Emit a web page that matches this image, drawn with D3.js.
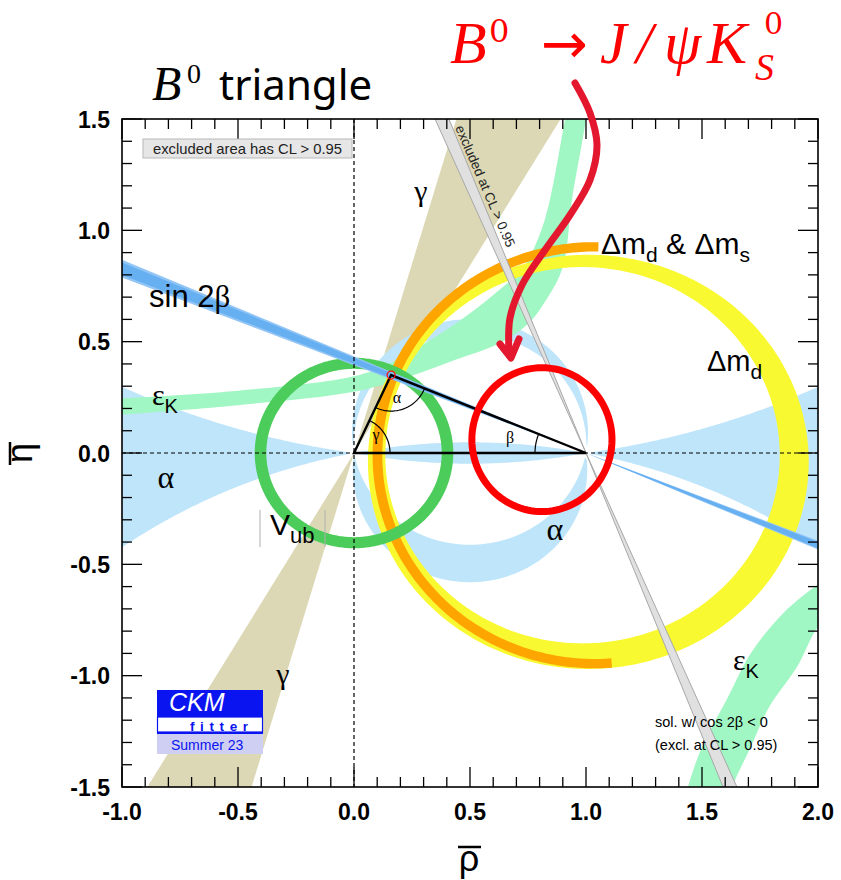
<!DOCTYPE html>
<html>
<head>
<meta charset="utf-8">
<script src="https://cdn.jsdelivr.net/npm/d3@7"></script>
<style>
  body { margin: 0; background: #fff; }
  svg { display: block; }
</style>
</head>
<body>
<svg id="chart" width="841" height="880"></svg>
<script>
// ---- axis ticks ----
const xTicks = [-1.0, -0.5, 0.0, 0.5, 1.0, 1.5, 2.0];
const yTicks = [-1.5, -1.0, -0.5, 0.0, 0.5, 1.0, 1.5];
const xMinor = d3.range(-10, 21).map(d => d / 10);
const yMinor = d3.range(-15, 16).map(d => d / 10);

// ---- constraint values (rho-bar, eta-bar plane) ----
const apex = [0.16, 0.35];                       // fitted apex
const gammaRange = [59.3, 73.6];                 // gamma, deg (95% CL)
const betaOuter = [21.5, 23.45];                 // sin 2beta, deg
const betaInner = [21.8, 23.15];
const betaMirror = [66.55, 68.5];                // cos 2beta < 0 solution, deg
const vubRadius = [0.378, 0.428];                // |Vub| ring radius
const dmdInner = [0.985, -0.01, 0.85, 0.845];    // cx, cy, rx, ry
const dmdOuter = [1.01, -0.04, 0.95, 0.93];
const dmsRing = [1.037, -0.01, 0.915, 0.957];    // cx, cy, rInner, rOuter
const dmsAngles = [89, 274.5];                   // arc extent, deg
const alphaUpper = [[-1, 8.1], [79.5, 86], [169, 181]];   // alpha, deg (eta > 0)
const alphaLower = [[-1, 11], [81.5, 101], [169, 181]];   // alpha, deg (eta < 0)
const epsKOuter = [[-1.1, 0.24], [-0.5, 0.28], [0.0, 0.345], [0.15, 0.40], [0.30, 0.49],
                   [0.45, 0.59], [0.60, 0.71], [0.73, 0.835], [0.80, 0.98], [0.845, 1.14],
                   [0.91, 1.5], [0.93, 1.6]];
const epsKInner = [[-1.1, 0.165], [-0.5, 0.215], [0.0, 0.275], [0.23, 0.34], [0.44, 0.42],
                   [0.62, 0.49], [0.75, 0.58], [0.83, 0.69], [0.90, 0.835], [0.94, 1.14],
                   [1.0, 1.5], [1.01, 1.6]];
const epsKLowerA = [[1.42, -1.6], [1.44, -1.5], [1.50, -1.32], [1.61, -1.10], [1.71, -0.90],
                    [1.85, -0.72], [2.0, -0.59], [2.1, -0.52]];
const epsKLowerB = [[1.60, -1.6], [1.63, -1.5], [1.71, -1.32], [1.79, -1.14], [1.91, -0.96],
                    [2.0, -0.78], [2.1, -0.68]];
const markCircle = [0.81, 0.06, 0.302, 0.323];   // highlighted region: cx, cy, rx, ry

// ---- layout ----
const x = d3.scaleLinear().domain([-1, 2]).range([122, 818]);
const y = d3.scaleLinear().domain([-1.5, 1.5]).range([787, 119]);
const svg = d3.select('#chart');
const rad = Math.PI / 180;
const SANS = 'Liberation Sans, Arial, Helvetica, sans-serif';
const SERIF = 'Liberation Serif, Times New Roman, serif';

svg.append('defs').append('clipPath').attr('id', 'plotClip')
  .append('rect').attr('x', 122).attr('y', 119).attr('width', 696).attr('height', 668);
const plot = svg.append('g').attr('clip-path', 'url(#plotClip)');

const P = d => [x(d[0]), y(d[1])];
const poly = pts => 'M' + pts.map(p => P(p).join(',')).join('L') + 'Z';

function wedge(v, a1, a2, R = 8) {
  return poly([v,
    [v[0] + R * Math.cos(a1 * rad), v[1] + R * Math.sin(a1 * rad)],
    [v[0] + R * Math.cos(a2 * rad), v[1] + R * Math.sin(a2 * rad)]]);
}
function ellipsePts(cx, cy, rx, ry, a0 = 0, a1 = 360, n = 360) {
  return d3.range(n + 1).map(i => {
    const a = (a0 + (a1 - a0) * i / n) * rad;
    return [cx + rx * Math.cos(a), cy + ry * Math.sin(a)];
  });
}
function ringPath(outer, inner) {
  return poly(ellipsePts(...outer)) + poly(ellipsePts(...inner));
}

// ---- gamma (beige wedges through origin) ----
plot.append('path').attr('d', wedge([0, 0], gammaRange[0], gammaRange[1]))
  .attr('fill', '#dcd8b5');
plot.append('path').attr('d', wedge([0, 0], gammaRange[0] + 180, gammaRange[1] + 180))
  .attr('fill', '#dcd8b5');

// ---- alpha (contours of the apex angle) ----
{
  const step = 2, nx = 348, ny = 334;
  const vals = new Float64Array(nx * ny);
  for (let j = 0; j < ny; j++) {
    for (let i = 0; i < nx; i++) {
      const r = x.invert(122 + (i + 0.5) * step);
      const e = y.invert(119 + (j + 0.5) * step);
      const ax = -r, ay = -e, bx = 1 - r, by = -e;
      const na = Math.hypot(ax, ay), nb = Math.hypot(bx, by);
      let c = (ax * bx + ay * by) / (na * nb);
      c = Math.max(-1, Math.min(1, c));
      const ang = isFinite(c) ? Math.acos(c) / rad : 0;
      const ranges = e >= 0 ? alphaUpper : alphaLower;
      let g = -1e9;
      for (const [lo, hi] of ranges) g = Math.max(g, Math.min(ang - lo, hi - ang));
      vals[j * nx + i] = g;
    }
  }
  const cont = d3.contours().size([nx, ny]).thresholds([0])(vals);
  const path = d3.geoPath(d3.geoIdentity().scale(step).translate([122, 119]));
  plot.append('path').attr('d', path(cont[0])).attr('fill', '#bfe5fb');
}

// ---- epsilon_K (light green) ----
const smooth = d3.line().curve(d3.curveCatmullRom.alpha(0.5));
function bandPath(a, b) {
  const pa = a.map(P), pb = b.slice().reverse().map(P);
  return smooth(pa) + 'L' + smooth(pb).slice(1) + 'Z';
}
plot.append('path').attr('d', bandPath(epsKOuter, epsKInner)).attr('fill', '#a0f7c3');
plot.append('path').attr('d', bandPath(epsKLowerA, epsKLowerB)).attr('fill', '#a0f7c3');

// ---- Delta m_d (yellow ring) ----
plot.append('path').attr('d', ringPath(dmdOuter, dmdInner))
  .attr('fill', '#f9f932').attr('fill-rule', 'evenodd');

// ---- Delta m_d & Delta m_s (orange arc band) ----
{
  const [cx, cy, r0, r1] = dmsRing;
  const outer = ellipsePts(cx, cy, r1, r1, dmsAngles[0], dmsAngles[1], 200);
  const inner = ellipsePts(cx, cy, r0, r0, dmsAngles[0], dmsAngles[1], 200).reverse();
  plot.append('path').attr('d', poly(outer.concat(inner))).attr('fill', '#ffa500');
}

// ---- |Vub| (green ring around origin) ----
plot.append('path')
  .attr('d', ringPath([0, 0, vubRadius[1], vubRadius[1]], [0, 0, vubRadius[0], vubRadius[0]]))
  .attr('fill', '#4ccc5a').attr('fill-rule', 'evenodd');

// ---- sin 2beta (blue wedges through (1,0)) ----
for (const [rng, col] of [[betaOuter, '#92c5f5'], [betaInner, '#66b0f2']]) {
  plot.append('path').attr('d', wedge([1, 0], 180 - rng[1], 180 - rng[0])).attr('fill', col);
  plot.append('path').attr('d', wedge([1, 0], -rng[1], -rng[0])).attr('fill', col);
}

// ---- cos 2beta < 0 solution (grey, excluded) ----
plot.append('path').attr('d', wedge([1, 0], 180 - betaMirror[1], 180 - betaMirror[0]))
  .attr('fill', '#e0e0e0').attr('stroke', '#a8a8a8').attr('stroke-width', 1);
plot.append('path').attr('d', wedge([1, 0], -betaMirror[1], -betaMirror[0]))
  .attr('fill', '#e0e0e0').attr('stroke', '#a8a8a8').attr('stroke-width', 1);

// ---- dashed axes through the origin ----
plot.append('line').attr('x1', x(0)).attr('x2', x(0)).attr('y1', y(1.5)).attr('y2', y(-1.5))
  .attr('stroke', '#000').attr('stroke-width', 1.2).attr('stroke-dasharray', '4,3');
plot.append('line').attr('x1', x(-1)).attr('x2', x(2)).attr('y1', y(0)).attr('y2', y(0))
  .attr('stroke', '#000').attr('stroke-width', 1.2).attr('stroke-dasharray', '4,3');

// ---- unitarity triangle ----
const O = P([0, 0]), B1 = P([1, 0]), A = P(apex);
plot.append('path').attr('d', `M${O}L${B1}L${A}Z`)
  .attr('fill', 'none').attr('stroke', '#000').attr('stroke-width', 2.4).attr('stroke-linejoin', 'miter');

function angleArc(c, p1, p2, r) {
  const a1 = Math.atan2(p1[1] - c[1], p1[0] - c[0]);
  let a2 = Math.atan2(p2[1] - c[1], p2[0] - c[0]);
  let d = a2 - a1;
  while (d > Math.PI) d -= 2 * Math.PI;
  while (d < -Math.PI) d += 2 * Math.PI;
  const pts = d3.range(41).map(i => {
    const a = a1 + d * i / 40;
    return [c[0] + r * Math.cos(a), c[1] + r * Math.sin(a)];
  });
  return d3.line()(pts);
}
const arcStyle = s => s.attr('fill', 'none').attr('stroke', '#000').attr('stroke-width', 1.2);
plot.append('path').attr('d', angleArc(O, B1, A, 36)).call(arcStyle);
plot.append('path').attr('d', angleArc(A, O, B1, 36)).call(arcStyle);
plot.append('path').attr('d', angleArc(B1, O, A, 51)).call(arcStyle);
plot.append('circle').attr('cx', A[0]).attr('cy', A[1]).attr('r', 4)
  .attr('fill', 'none').attr('stroke', '#ff1010').attr('stroke-width', 1.3);

const tri = plot.append('g').attr('font-family', SERIF).attr('font-size', 16).attr('fill', '#000');
tri.append('text').attr('x', 397).attr('y', 403).attr('text-anchor', 'middle').text('α');
tri.append('text').attr('x', 376).attr('y', 440).attr('text-anchor', 'middle').text('γ');
tri.append('text').attr('x', 510).attr('y', 443).attr('text-anchor', 'middle').text('β');

// ---- frame and ticks ----
const axisG = svg.append('g').attr('stroke', '#000').attr('stroke-width', 1.3);
axisG.append('rect').attr('x', 122).attr('y', 119).attr('width', 696).attr('height', 668)
  .attr('fill', 'none').attr('stroke-width', 1.6);
const isMajor = v => Math.abs(v * 2 - Math.round(v * 2)) < 1e-6;
for (const v of xMinor) {
  const L = isMajor(v) ? 20 : 10;
  axisG.append('line').attr('x1', x(v)).attr('x2', x(v)).attr('y1', 787).attr('y2', 787 - L);
  axisG.append('line').attr('x1', x(v)).attr('x2', x(v)).attr('y1', 119).attr('y2', 119 + L);
}
for (const v of yMinor) {
  const L = isMajor(v) ? 20 : 10;
  axisG.append('line').attr('x1', 122).attr('x2', 122 + L).attr('y1', y(v)).attr('y2', y(v));
  axisG.append('line').attr('x1', 818).attr('x2', 818 - L).attr('y1', y(v)).attr('y2', y(v));
}
const tickTxt = svg.append('g').attr('font-family', SANS).attr('font-weight', 'bold')
  .attr('font-size', 23).attr('fill', '#000');
for (const v of xTicks) {
  tickTxt.append('text').attr('x', x(v)).attr('y', 820).attr('text-anchor', 'middle').text(v.toFixed(1));
}
for (const v of yTicks) {
  tickTxt.append('text').attr('x', 110).attr('y', y(v) + 8.5).attr('text-anchor', 'end').text(v.toFixed(1));
}

// ---- axis titles ----
svg.append('text').attr('x', 469).attr('y', 871).attr('text-anchor', 'middle')
  .attr('font-family', SANS).attr('font-size', 36).text('ρ');
svg.append('line').attr('x1', 458).attr('x2', 481).attr('y1', 847).attr('y2', 847)
  .attr('stroke', '#000').attr('stroke-width', 2.5);
svg.append('text').attr('transform', 'translate(32,453) rotate(-90)').attr('text-anchor', 'middle')
  .attr('font-family', SANS).attr('font-size', 36).text('η');
svg.append('line').attr('x1', 10).attr('x2', 10).attr('y1', 442).attr('y2', 465)
  .attr('stroke', '#000').attr('stroke-width', 2.5);

// ---- band labels ----
const lab = svg.append('g').attr('font-family', SANS).attr('fill', '#000');
function subLabel(px, py, main, sub, size, subSize, mainFont = SANS) {
  const t = lab.append('text').attr('x', px).attr('y', py).attr('font-size', size);
  t.append('tspan').attr('font-family', mainFont).text(main);
  t.append('tspan').attr('font-size', subSize).attr('dy', size * 0.28).text(sub);
  return t;
}
lab.append('text').attr('x', 421).attr('y', 201).attr('text-anchor', 'middle')
  .attr('font-family', SERIF).attr('font-size', 30).text('γ');
lab.append('text').attr('x', 283).attr('y', 684).attr('text-anchor', 'middle')
  .attr('font-family', SERIF).attr('font-size', 30).text('γ');
lab.append('text').attr('x', 166).attr('y', 488).attr('text-anchor', 'middle')
  .attr('font-family', SERIF).attr('font-size', 32).text('α');
lab.append('text').attr('x', 555).attr('y', 540).attr('text-anchor', 'middle')
  .attr('font-family', SERIF).attr('font-size', 32).text('α');
{
  const t = lab.append('text').attr('x', 149).attr('y', 307).attr('font-size', 31);
  t.append('tspan').text('sin 2');
  t.append('tspan').attr('font-family', SERIF).text('β');
}
{
  const t = lab.append('text').attr('x', 601).attr('y', 254).attr('font-size', 30);
  t.append('tspan').text('Δm');
  t.append('tspan').attr('font-size', 21).attr('dy', 8).text('d');
  t.append('tspan').attr('dy', -8).text(' & Δm');
  t.append('tspan').attr('font-size', 21).attr('dy', 8).text('s');
}
subLabel(707, 371, 'Δm', 'd', 29, 21);
subLabel(152, 405, 'ε', 'K', 30, 20, SERIF);
subLabel(733, 670, 'ε', 'K', 30, 20, SERIF);
subLabel(270, 535, 'V', 'ub', 30, 22);
for (const bx of [260, 325]) {
  lab.append('line').attr('x1', bx).attr('x2', bx).attr('y1', 510).attr('y2', 547)
    .attr('stroke', '#b0b0b0').attr('stroke-width', 1);
}
lab.append('text').attr('x', 655).attr('y', 727).attr('font-size', 14.5).text('sol. w/ cos 2β < 0');
lab.append('text').attr('x', 655).attr('y', 750).attr('font-size', 14.5).text('(excl. at CL > 0.95)');

// label running along the excluded grey band
{
  const ang = Math.atan2(y(-1) - y(0), x(1 + 1 / Math.tan(67.5 * rad)) - x(1)) / rad;
  lab.append('text').attr('transform', `translate(481,188) rotate(${ang})`)
    .attr('text-anchor', 'middle').attr('font-size', 13.5).attr('fill', '#222')
    .text('excluded at CL > 0.95');
}

// CL note box
svg.append('rect').attr('x', 143).attr('y', 139).attr('width', 209).attr('height', 19)
  .attr('fill', '#e6e6e6').attr('stroke', '#b8b8b8').attr('stroke-width', 1);
svg.append('text').attr('x', 247.5).attr('y', 154).attr('text-anchor', 'middle')
  .attr('font-family', SANS).attr('font-size', 14.8).attr('fill', '#222')
  .text('excluded area has CL > 0.95');

// ---- CKMfitter badge ----
{
  const g = svg.append('g');
  g.append('rect').attr('x', 157).attr('y', 690).attr('width', 106).attr('height', 27).attr('fill', '#0a14f0');
  g.append('rect').attr('x', 157.5).attr('y', 717).attr('width', 105).attr('height', 15)
    .attr('fill', '#fff').attr('stroke', '#0a14f0').attr('stroke-width', 1.2);
  g.append('line').attr('x1', 157).attr('x2', 263).attr('y1', 733).attr('y2', 733)
    .attr('stroke', '#0a14f0').attr('stroke-width', 2);
  g.append('rect').attr('x', 157).attr('y', 734).attr('width', 106).attr('height', 20).attr('fill', '#cfcff4');
  g.append('text').attr('x', 169).attr('y', 711).attr('font-family', SANS).attr('font-style', 'italic')
    .attr('font-size', 25).attr('fill', '#fff').text('CKM');
  g.append('text').attr('x', 190).attr('y', 731).attr('font-family', SANS).attr('font-weight', 'bold')
    .attr('font-size', 13.5).attr('letter-spacing', 5.6).attr('fill', '#0a14f0').text('fitter');
  g.append('text').attr('x', 171).attr('y', 750).attr('font-family', SANS)
    .attr('font-size', 14).attr('fill', '#0a14f0').text('Summer 23');
}

// ---- titles ----
{
  const g = svg.append('g').attr('fill', '#000');
  g.append('text').attr('x', 152).attr('y', 100).attr('font-family', SERIF).attr('font-style', 'italic')
    .attr('font-size', 48).text('B');
  g.append('text').attr('x', 187).attr('y', 83).attr('font-family', SERIF)
    .attr('font-size', 28).text('0');
  g.append('text').attr('x', 219).attr('y', 100).attr('font-family', 'Noto Sans, sans-serif')
    .attr('font-size', 42).text('triangle');
}
{
  const g = svg.append('g').attr('fill', '#ff0000').attr('font-family', SERIF).attr('font-size', 60);
  g.append('text').attr('x', 450).attr('y', 63).attr('font-style', 'italic').text('B');
  g.append('text').attr('x', 489).attr('y', 42).attr('font-family', 'DejaVu Serif, serif')
    .attr('font-size', 32).text('0');
  g.append('text').attr('x', 541).attr('y', 63).attr('font-family', 'DejaVu Sans, sans-serif')
    .attr('font-size', 56).text('→');
  g.append('text').attr('x', 600).attr('y', 63).attr('font-style', 'italic').text('J');
  g.append('text').attr('x', 636).attr('y', 63).attr('font-style', 'italic').text('/');
  g.append('text').attr('x', 664).attr('y', 63).attr('font-style', 'italic').text('ψ');
  g.append('text').attr('x', 707).attr('y', 63).attr('font-style', 'italic').text('K');
  g.append('text').attr('x', 764).attr('y', 34).attr('font-family', 'DejaVu Serif, serif')
    .attr('font-size', 30).text('0');
  g.append('text').attr('x', 755).attr('y', 80).attr('font-style', 'italic').attr('font-size', 38).text('S');
}

// ---- highlighted region and pointer ----
svg.append('path').attr('d', poly(ellipsePts(...markCircle, 0, 360, 120)))
  .attr('fill', 'none').attr('stroke', '#ff0000').attr('stroke-width', 7);
{
  const pointer = [[575, 83], [590, 113], [597, 145], [590, 180], [570, 215], [545, 250],
                   [522, 285], [510, 318], [509, 352]];
  svg.append('path').attr('d', d3.line().curve(d3.curveCatmullRom)(pointer))
    .attr('fill', 'none').attr('stroke', '#e3182f').attr('stroke-width', 7).attr('stroke-linecap', 'round');
  svg.append('path').attr('d', d3.line()([[500, 344], [511, 358], [519, 339]]))
    .attr('fill', 'none').attr('stroke', '#e3182f').attr('stroke-width', 7)
    .attr('stroke-linecap', 'round').attr('stroke-linejoin', 'round');
}
</script>
</body>
</html>
